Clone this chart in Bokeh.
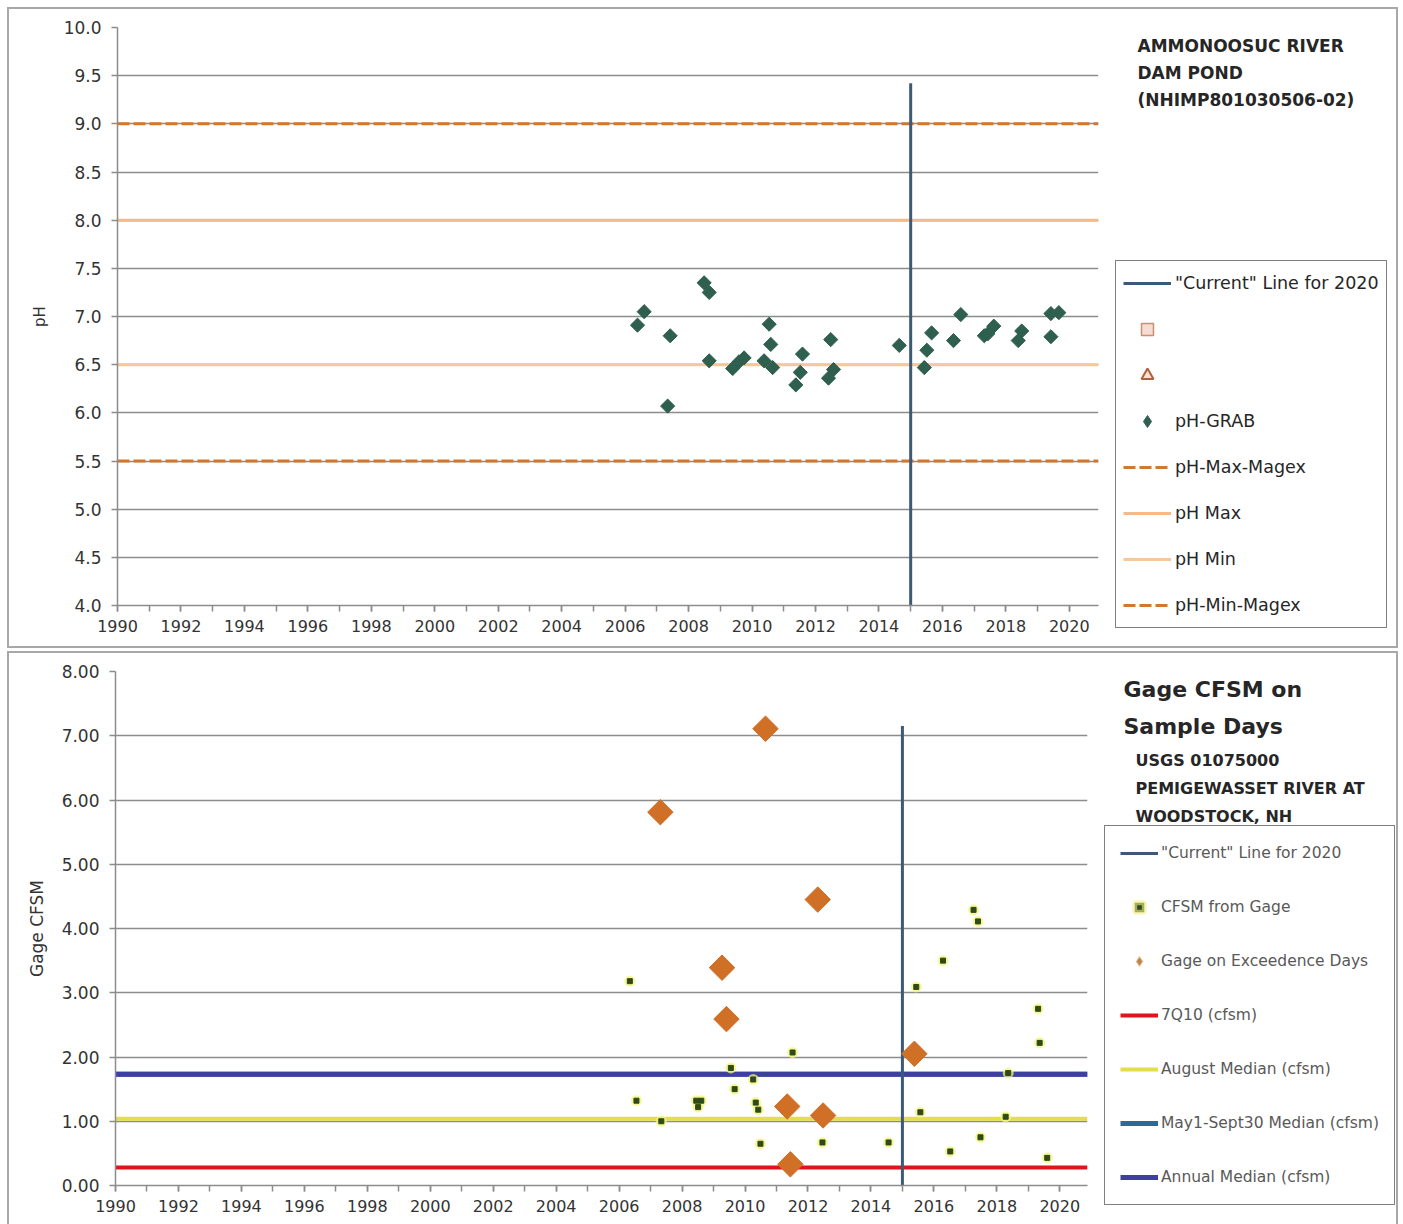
import math
from bokeh.plotting import figure
from bokeh.models import (Legend, LegendItem, Label, Range1d, SingleIntervalTicker,
                          PrintfTickFormatter, Spacer)
from bokeh.layouts import column, row
from bokeh.embed import file_html
from bokeh.resources import INLINE

# ---------------- data ----------------
x_start, x_end_ph, x_end_cfsm = 1990.0, 2020.92, 2020.88
current_year = 2015.0
current_top_ph = 9.42
current_top_cfsm = 7.15

ph_years = [2006.39, 2006.60, 2007.42, 2007.34, 2008.49, 2008.65, 2008.65, 2009.39, 2009.59, 2009.75,
            2010.54, 2010.59, 2010.38, 2010.65, 2011.59, 2011.52, 2011.38, 2012.48, 2012.57, 2012.41,
            2014.64, 2015.66, 2015.51, 2015.43, 2016.35, 2016.58, 2017.32, 2017.62, 2017.43, 2018.50,
            2018.39, 2019.42, 2019.67, 2019.42]
ph_values = [6.91, 7.05, 6.80, 6.07, 7.35, 7.25, 6.54, 6.46, 6.53, 6.57,
             6.92, 6.71, 6.54, 6.47, 6.61, 6.42, 6.29, 6.76, 6.45, 6.36,
             6.70, 6.83, 6.65, 6.47, 6.75, 7.02, 6.80, 6.90, 6.82, 6.85,
             6.75, 7.03, 7.04, 6.79]
ph_max_magex = 9.0
ph_max = 8.0
ph_min = 6.5
ph_min_magex = 5.5

cfsm_years = [2006.34, 2006.55, 2007.34, 2008.45, 2008.61, 2008.51, 2009.55, 2009.67, 2010.26,
              2010.34, 2010.42, 2010.49, 2011.51, 2012.46, 2014.56, 2015.44, 2015.57, 2016.29,
              2016.52, 2017.26, 2017.40, 2017.48, 2018.36, 2018.28, 2019.31, 2019.36, 2019.60]
cfsm_values = [3.18, 1.32, 1.00, 1.32, 1.32, 1.22, 1.83, 1.50, 1.65,
               1.29, 1.18, 0.65, 2.07, 0.67, 0.67, 3.09, 1.14, 3.50,
               0.53, 4.29, 4.11, 0.75, 1.75, 1.07, 2.75, 2.22, 0.43]
exceed_years = [2010.65, 2007.31, 2012.31, 2009.27, 2009.41, 2015.38, 2011.34, 2012.48, 2011.44]
exceed_values = [7.11, 5.81, 4.45, 3.39, 2.59, 2.05, 1.23, 1.09, 0.33]
q7_10 = 0.28
august_median = 1.04
may_sept_median = 1.73
annual_median = 1.73

ph_title = ["AMMONOOSUC RIVER", "DAM POND", "(NHIMP801030506-02)"]
cfsm_title = ["Gage CFSM on", "Sample Days"]
cfsm_subtitle = ["USGS 01075000", "PEMIGEWASSET RIVER AT", "WOODSTOCK, NH"]

FONT = "DejaVu Sans"
GRID = "#8c8c8c"
TXT = "#333333"
BOX = "#a8a8a8"
NAN = float("nan")

# styles
CUR = dict(line_color="#3c5a78", line_width=3)
MAXM = dict(line_color="#d2782e", line_width=3, line_dash="12 4")
PMAX = dict(line_color="#f5b98a", line_width=3)
PMIN = dict(line_color="#f3c89c", line_width=3)
PH_MK = dict(marker="square", angle=math.pi / 4, fill_color="#2f5f4e", line_color="#2f5f4e")
Q7 = dict(line_color="#e0141a", line_width=4)
AUG = dict(line_color="#e4de4a", line_width=4)
MS = dict(line_color="#2c6a9a", line_width=5)
ANN = dict(line_color="#3e40a0", line_width=5)
EX_MK = dict(marker="square", angle=math.pi / 4, fill_color="#d06f26", line_color="#d06f26")


def style_axes(p, yfmt, yint):
    p.xgrid.visible = False
    p.ygrid.grid_line_color = GRID
    p.ygrid.grid_line_width = 1.5
    p.outline_line_color = None
    p.xaxis.ticker = SingleIntervalTicker(interval=2, num_minor_ticks=2)
    p.yaxis.ticker = SingleIntervalTicker(interval=yint, num_minor_ticks=0)
    p.yaxis.formatter = PrintfTickFormatter(format=yfmt)
    for ax in (p.xaxis[0], p.yaxis[0]):
        ax.axis_line_color = GRID
        ax.axis_line_width = 1.5
        ax.major_tick_line_color = GRID
        ax.major_tick_line_width = 1.5
        ax.minor_tick_line_color = GRID
        ax.minor_tick_line_width = 1.5
        ax.major_tick_in = 0
        ax.major_tick_out = 6
        ax.minor_tick_in = 0
        ax.minor_tick_out = 6
        ax.major_label_text_font = FONT
        ax.major_label_text_color = TXT
        ax.axis_label_text_font = FONT
        ax.axis_label_text_color = TXT
        ax.axis_label_text_font_style = "normal"
    p.xaxis.major_label_text_font_size = "16px"
    p.yaxis.major_label_text_font_size = "17px"
    p.xaxis.major_label_standoff = 8
    p.yaxis.major_label_standoff = 10
    p.yaxis.axis_label_standoff = 12


def side_fig(w, h):
    s = figure(width=w, height=h, x_range=Range1d(0, w), y_range=Range1d(0, h),
               x_axis_type=None, y_axis_type=None, output_backend="svg",
               toolbar_location=None, min_border=0)
    s.grid.visible = False
    s.outline_line_color = None
    return s


def gray(w, h):
    return Spacer(width=w, height=h, styles={"background-color": BOX})


# ---------------- top chart: pH ----------------
p1 = figure(width=1094, height=637, x_range=Range1d(x_start, x_end_ph), y_range=Range1d(4, 10),
            output_backend="svg", toolbar_location=None,
            min_border_left=108, min_border_right=5, min_border_top=18, min_border_bottom=41)
style_axes(p1, "%.1f", 0.5)
p1.yaxis.axis_label = "pH"
p1.yaxis.axis_label_text_font_size = "15px"

p1.line([x_start, x_end_ph], [ph_max, ph_max], **PMAX)
p1.line([x_start, x_end_ph], [ph_min, ph_min], **PMIN)
p1.line([x_start, x_end_ph], [ph_max_magex, ph_max_magex], **MAXM)
p1.line([x_start, x_end_ph], [ph_min_magex, ph_min_magex], **MAXM)
p1.segment(x0=[current_year], y0=[4.0], x1=[current_year], y1=[current_top_ph], **CUR)
p1.scatter(ph_years, ph_values, size=10, **PH_MK)

s1 = side_fig(293, 637)
d_cur = s1.line([NAN, NAN], [NAN, NAN], **CUR)
d_sq = s1.scatter([NAN], [NAN], marker="square", fill_color="#f6dcd2", line_color="#c89070", line_width=1.5)
d_tri = s1.scatter([NAN], [NAN], marker="triangle", fill_color="#f6e0d6", line_color="#b0603c", line_width=2)
d_ph = s1.scatter([NAN], [NAN], marker="diamond", fill_color="#2f5f4e", line_color="#2f5f4e")
d_maxm = s1.line([NAN, NAN], [NAN, NAN], **MAXM)
d_max = s1.line([NAN, NAN], [NAN, NAN], **PMAX)
d_min = s1.line([NAN, NAN], [NAN, NAN], **PMIN)
d_minm = s1.line([NAN, NAN], [NAN, NAN], **MAXM)

leg1 = Legend(items=[
    LegendItem(label='"Current" Line for 2020', renderers=[d_cur]),
    LegendItem(label=" ", renderers=[d_sq]),
    LegendItem(label=" ", renderers=[d_tri]),
    LegendItem(label="pH-GRAB", renderers=[d_ph]),
    LegendItem(label="pH-Max-Magex", renderers=[d_maxm]),
    LegendItem(label="pH Max", renderers=[d_max]),
    LegendItem(label="pH Min", renderers=[d_min]),
    LegendItem(label="pH-Min-Magex", renderers=[d_minm]),
], location=(12, 18), padding=7, spacing=16, glyph_height=30, glyph_width=48,
    label_standoff=4, label_height=20,
    label_text_font=FONT, label_text_font_size="17.5px", label_text_color="#262626",
    border_line_color="black", border_line_width=1.5, background_fill_color="white",
    background_fill_alpha=1.0)
s1.add_layout(leg1)

for i, t in enumerate(ph_title):
    s1.add_layout(Label(x=34, y=611 - 27 * i, x_units="screen", y_units="screen", text=t,
                        text_baseline="top", text_font=FONT, text_font_size="17px",
                        text_font_style="bold", text_color="#262626"))

# ---------------- bottom chart: CFSM ----------------
p2 = figure(width=1083, height=571, x_range=Range1d(x_start, x_end_cfsm), y_range=Range1d(0, 8),
            output_backend="svg", toolbar_location=None,
            min_border_left=106, min_border_right=5, min_border_top=18, min_border_bottom=39)
style_axes(p2, "%.2f", 1)
p2.yaxis.axis_label = "Gage CFSM"
p2.yaxis.axis_label_text_font_size = "17px"

p2.line([x_start, x_end_cfsm], [q7_10, q7_10], **Q7)
p2.line([x_start, x_end_cfsm], [august_median, august_median], **AUG)
p2.line([x_start, x_end_cfsm], [may_sept_median, may_sept_median], **MS)
p2.line([x_start, x_end_cfsm], [annual_median, annual_median], **ANN)
p2.segment(x0=[current_year], y0=[0.0], x1=[current_year], y1=[current_top_cfsm], **CUR)
p2.scatter(cfsm_years, cfsm_values, marker="circle", size=11, fill_color="#f6f57a",
           fill_alpha=0.75, line_color=None)
p2.scatter(cfsm_years, cfsm_values, marker="square", size=5, fill_color="#2e4a18",
           line_color="#2e4a18")
p2.scatter(exceed_years, exceed_values, size=18, **EX_MK)

s2 = side_fig(304, 571)
e_cur = s2.line([NAN, NAN], [NAN, NAN], **CUR)
e_cf = s2.scatter([NAN], [NAN], marker="square", fill_color="#2e4a18", line_color="#f4f28a",
                  line_width=5, line_alpha=0.6)
e_ex = s2.scatter([NAN], [NAN], marker="diamond", fill_color="#b8864e", line_color="#e8c090",
                  line_width=1)
e_7q = s2.line([NAN, NAN], [NAN, NAN], **Q7)
e_aug = s2.line([NAN, NAN], [NAN, NAN], **AUG)
e_ms = s2.line([NAN, NAN], [NAN, NAN], **MS)
e_ann = s2.line([NAN, NAN], [NAN, NAN], **ANN)

leg2 = Legend(items=[
    LegendItem(label='"Current" Line for 2020', renderers=[e_cur]),
    LegendItem(label="CFSM from Gage", renderers=[e_cf]),
    LegendItem(label="Gage on Exceedence Days", renderers=[e_ex]),
    LegendItem(label="7Q10 (cfsm)", renderers=[e_7q]),
    LegendItem(label="August Median (cfsm)", renderers=[e_aug]),
    LegendItem(label="May1-Sept30 Median (cfsm)", renderers=[e_ms]),
    LegendItem(label="Annual Median (cfsm)", renderers=[e_ann]),
], location=(12, 19), padding=15, spacing=30, glyph_height=24, glyph_width=38,
    label_standoff=3, label_height=20,
    label_text_font=FONT, label_text_font_size="15.5px", label_text_color="#595959",
    border_line_color="black", border_line_width=1.5, background_fill_color="white",
    background_fill_alpha=1.0)
s2.add_layout(leg2)

for i, t in enumerate(cfsm_title):
    s2.add_layout(Label(x=31, y=548 - 37 * i, x_units="screen", y_units="screen", text=t,
                        text_baseline="top", text_font=FONT, text_font_size="22px",
                        text_font_style="bold", text_color="#262626"))
for i, t in enumerate(cfsm_subtitle):
    s2.add_layout(Label(x=43, y=474 - 28 * i, x_units="screen", y_units="screen", text=t,
                        text_baseline="top", text_font=FONT, text_font_size="16px",
                        text_font_style="bold", text_color="#262626"))

top_box = column(gray(1391, 2),
                 row(gray(2, 637), p1, column(s1, spacing=0), gray(2, 637), spacing=0),
                 gray(1391, 2), spacing=0)
bottom_box = column(gray(1391, 2),
                    row(gray(2, 571), p2, column(s2, spacing=0), gray(2, 571), spacing=0),
                    spacing=0)
layout = column(Spacer(height=7),
                row(Spacer(width=7), top_box, spacing=0),
                Spacer(height=3),
                row(Spacer(width=7), bottom_box, spacing=0),
                spacing=0)

open("out.html", "w").write(file_html(layout, INLINE))
